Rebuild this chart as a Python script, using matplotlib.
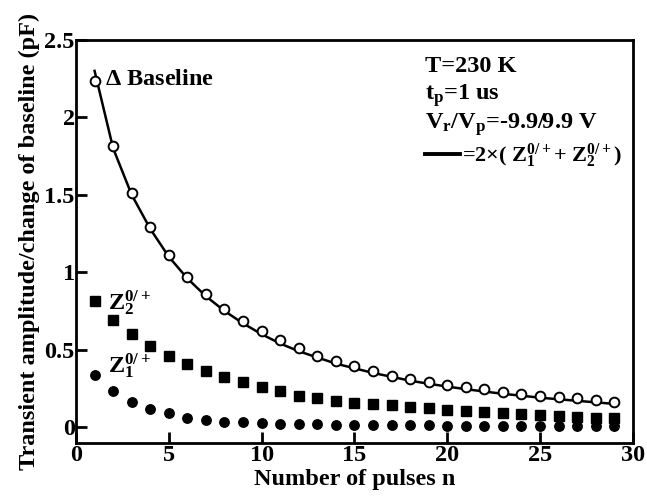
import numpy as np
import matplotlib
matplotlib.use('Agg')
import matplotlib.pyplot as plt

plt.rcParams['font.family'] = 'Liberation Serif'
plt.rcParams['font.weight'] = 'bold'
plt.rcParams['mathtext.fontset'] = 'custom'
plt.rcParams['mathtext.rm'] = 'Liberation Serif:bold'
plt.rcParams['mathtext.it'] = 'Liberation Serif:bold'
plt.rcParams['mathtext.bf'] = 'Liberation Serif:bold'

# pulse number
n = np.arange(1, 30)

# change of baseline (open circles)
baseline = [2.233, 1.813, 1.512, 1.29, 1.112, 0.972, 0.858, 0.762, 0.687, 0.618,
            0.56, 0.508, 0.461, 0.429, 0.395, 0.36, 0.333, 0.313, 0.292, 0.275,
            0.26, 0.243, 0.228, 0.215, 0.204, 0.193, 0.185, 0.174, 0.163]

# Z2 0/+ transient amplitude (squares)
z2 = [0.817, 0.693, 0.601, 0.521, 0.461, 0.408, 0.36, 0.324, 0.292, 0.26,
      0.232, 0.2, 0.185, 0.167, 0.157, 0.15, 0.142, 0.131, 0.125, 0.109,
      0.104, 0.097, 0.088, 0.083, 0.078, 0.071, 0.066, 0.062, 0.056]

# Z1 0/+ transient amplitude (filled circles)
z1 = [0.339, 0.232, 0.161, 0.114, 0.088, 0.06, 0.047, 0.035, 0.03, 0.024,
      0.022, 0.02, 0.018, 0.016, 0.015, 0.014, 0.013, 0.012, 0.011, 0.01,
      0.009, 0.009, 0.008, 0.008, 0.007, 0.007, 0.006, 0.006, 0.006]

# solid curve = 2 x (Z1 + Z2), as drawn in the figure
curve = [2.30, 1.80, 1.50, 1.28, 1.10, 0.96, 0.845, 0.75, 0.67, 0.60,
         0.54, 0.49, 0.45, 0.41, 0.38, 0.35, 0.325, 0.30, 0.28, 0.262,
         0.245, 0.23, 0.215, 0.203, 0.19, 0.18, 0.17, 0.16, 0.15]

fs = 17.5

fig = plt.figure(figsize=(6.47, 4.99), dpi=100)
ax = fig.add_axes([0.1175, 0.113, 0.8605, 0.807])

fit_line, = ax.plot(n, curve, color='black', linewidth=1.8, zorder=2)
ax.plot(n, baseline, 'o', markersize=7, markerfacecolor='white',
        markeredgecolor='black', markeredgewidth=1.4, zorder=3)
ax.plot(n, z2, 's', markersize=6.8, color='black', zorder=3)
ax.plot(n, z1, 'o', markersize=6.8, color='black', zorder=3)

ax.set_xlim(0, 30)
ax.set_ylim(-0.1, 2.5)
ax.set_xticks([0, 5, 10, 15, 20, 25, 30])
ax.set_yticks([0, 0.5, 1, 1.5, 2, 2.5])
ax.set_yticklabels(['0', '0.5', '1', '1.5', '2', '2.5'])
ax.tick_params(direction='in', length=8, width=2, labelsize=fs)
ax.tick_params(axis='y', pad=1)
ax.tick_params(axis='x', pad=2)
for s in ax.spines.values():
    s.set_linewidth(2)

ax.set_xlabel('Number of pulses n', fontsize=fs, fontweight='bold', labelpad=2)
ax.set_ylabel('Transient amplitude/change of baseline (pF)', fontsize=fs,
              fontweight='bold', labelpad=3)

ax.text(1.56, 2.245, r'$\Delta$ Baseline', fontsize=fs, va='center', ha='left')
ax.text(1.75, 0.80, r'Z$_2^{0/+}$', fontsize=fs, va='center', ha='left')
ax.text(1.75, 0.39, r'Z$_1^{0/+}$', fontsize=fs, va='center', ha='left')

# condition block, top right
tx = 0.627
ax.text(tx, 0.921, 'T=230 K', transform=ax.transAxes, fontsize=fs, va='baseline')
ax.text(tx, 0.851, r't$_\mathregular{p}$=1 us', transform=ax.transAxes,
        fontsize=fs, va='baseline')
ax.text(tx, 0.779, r'V$_\mathregular{r}$/V$_\mathregular{p}$=-9.9/9.9 V',
        transform=ax.transAxes, fontsize=fs, va='baseline')

leg = ax.legend([fit_line], [r'=2×( Z$_1^{0/+}$+ Z$_2^{0/+}$)'],
                loc='center left', bbox_to_anchor=(tx, 0.712),
                frameon=False, fontsize=16, handlelength=1.58,
                handletextpad=0.1, borderpad=0, borderaxespad=0)
leg.get_lines()[0].set_linewidth(2.8)

fig.savefig('out.png', dpi=100)
